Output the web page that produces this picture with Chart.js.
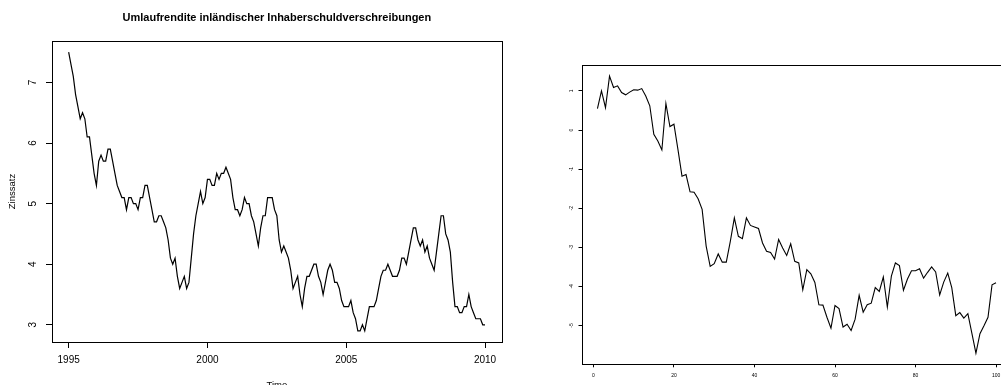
<!DOCTYPE html>
<html>
<head>
<meta charset="utf-8">
<script src="https://cdn.jsdelivr.net/npm/chart.js@4/dist/chart.umd.min.js"></script>
<style>
  html, body { margin: 0; padding: 0; background: #fff; overflow: hidden; }
  #page { position: relative; width: 1001px; height: 385px; overflow: hidden; background: #fff; }
  #ts { position: absolute; left: 0; top: 0; }
  #rw { position: absolute; left: 540px; top: 0; }
</style>
</head>
<body>
<div id="page">
  <canvas id="ts" width="540" height="400"></canvas>
  <canvas id="rw" width="500" height="400"></canvas>
</div>
<script>
// Monthly yield series, January 1995 .. January 2010 (percent)
const startYear = 1995;
const zinssatz = [
  7.5, 7.3, 7.1, 6.8, 6.6, 6.4, 6.5, 6.4, 6.1, 6.1, 5.8, 5.5,   // 1995
  5.3, 5.7, 5.8, 5.7, 5.7, 5.9, 5.9, 5.7, 5.5, 5.3, 5.2, 5.1,   // 1996
  5.1, 4.9, 5.1, 5.1, 5.0, 5.0, 4.9, 5.1, 5.1, 5.3, 5.3, 5.1,   // 1997
  4.9, 4.7, 4.7, 4.8, 4.8, 4.7, 4.6, 4.4, 4.1, 4.0, 4.1, 3.8,   // 1998
  3.6, 3.7, 3.8, 3.6, 3.7, 4.1, 4.5, 4.8, 5.0, 5.2, 5.0, 5.1,   // 1999
  5.4, 5.4, 5.3, 5.3, 5.5, 5.4, 5.5, 5.5, 5.6, 5.5, 5.4, 5.1,   // 2000
  4.9, 4.9, 4.8, 4.9, 5.1, 5.0, 5.0, 4.8, 4.7, 4.5, 4.3, 4.6,   // 2001
  4.8, 4.8, 5.1, 5.1, 5.1, 4.9, 4.8, 4.4, 4.2, 4.3, 4.2, 4.1,   // 2002
  3.9, 3.6, 3.7, 3.8, 3.5, 3.3, 3.6, 3.8, 3.8, 3.9, 4.0, 4.0,   // 2003
  3.8, 3.7, 3.5, 3.7, 3.9, 4.0, 3.9, 3.7, 3.7, 3.6, 3.4, 3.3,   // 2004
  3.3, 3.3, 3.4, 3.2, 3.1, 2.9, 2.9, 3.0, 2.9, 3.1, 3.3, 3.3,   // 2005
  3.3, 3.4, 3.6, 3.8, 3.9, 3.9, 4.0, 3.9, 3.8, 3.8, 3.8, 3.9,   // 2006
  4.1, 4.1, 4.0, 4.2, 4.4, 4.6, 4.6, 4.4, 4.3, 4.4, 4.2, 4.3,   // 2007
  4.1, 4.0, 3.9, 4.2, 4.5, 4.8, 4.8, 4.5, 4.4, 4.2, 3.7, 3.3,   // 2008
  3.3, 3.2, 3.2, 3.3, 3.3, 3.5, 3.3, 3.2, 3.1, 3.1, 3.1, 3.0,   // 2009
  3.0                                                           // 2010
];
const yearTicks = [1995, 2000, 2005, 2010];
const rateTicks = [3, 4, 5, 6, 7];

// Random walk, 100 steps
const walk = [
   0.55,  1.00,  0.57,  1.38,  1.09,  1.13,  0.96,  0.90,  0.97,  1.03,
   1.02,  1.06,  0.87,  0.62, -0.11, -0.28, -0.51,  0.68,  0.09,  0.15,
  -0.50, -1.18, -1.14, -1.58, -1.59, -1.76, -2.03, -2.97, -3.49, -3.42,
  -3.17, -3.38, -3.38, -2.85, -2.25, -2.72, -2.78, -2.25, -2.44, -2.48,
  -2.52, -2.89, -3.10, -3.13, -3.30, -2.80, -3.02, -3.21, -2.91, -3.36,
  -3.40, -4.09, -3.57, -3.68, -3.90, -4.47, -4.48, -4.79, -5.07, -4.49,
  -4.57, -5.04, -4.97, -5.13, -4.84, -4.23, -4.66, -4.47, -4.43, -4.03,
  -4.13, -3.76, -4.53, -3.74, -3.40, -3.47, -4.10, -3.81, -3.60, -3.60,
  -3.55, -3.79, -3.64, -3.50, -3.63, -4.22, -3.89, -3.66, -4.03, -4.75,
  -4.67, -4.81, -4.70, -5.20, -5.71, -5.21, -5.01, -4.79, -3.96, -3.91
];
const stepTicks = [0, 20, 40, 60, 80, 100];
const walkTicks = [-5, -4, -3, -2, -1, 0, 1];

const FONT = "'Liberation Sans', Arial, Helvetica, sans-serif";

// axis range padded by 4% on each side, like R's default
function padRange(lo, hi) {
  const d = (hi - lo) * 0.04;
  return [lo - d, hi + d];
}

// draws the full frame around the plotting region
const framePlugin = {
  id: 'frame',
  afterDraw(chart) {
    const { ctx, chartArea: a } = chart;
    ctx.save();
    ctx.strokeStyle = '#000';
    ctx.lineWidth = 1;
    ctx.strokeRect(Math.round(a.left) + 0.5, Math.round(a.top) + 0.5,
                   Math.round(a.right - a.left), Math.round(a.bottom - a.top));
    ctx.restore();
  }
};

function fixedTicks(list) {
  return (scale) => { scale.ticks = list.map(v => ({ value: v })); };
}

// ---- left: time series ----
const tsPoints = zinssatz.map((v, i) => ({ x: startYear + i / 12, y: v }));
const tsX = padRange(startYear, startYear + (zinssatz.length - 1) / 12);
const tsY = padRange(Math.min(...zinssatz), Math.max(...zinssatz));

new Chart(document.getElementById('ts'), {
  type: 'line',
  data: {
    datasets: [{
      data: tsPoints,
      borderColor: '#000',
      borderWidth: 1.2,
      pointRadius: 0,
      tension: 0,
      fill: false
    }]
  },
  options: {
    responsive: false,
    animation: false,
    devicePixelRatio: 1,
    events: [],
    layout: { padding: { top: 0, right: 38.3, left: 0, bottom: 0 } },
    plugins: {
      legend: { display: false },
      tooltip: { enabled: false },
      title: {
        display: true,
        text: 'Umlaufrendite inländischer Inhaberschuldverschreibungen',
        color: '#000',
        fullSize: false,
        font: { family: FONT, size: 11, weight: 'bold', lineHeight: 1.2 },
        padding: { top: 11.4, bottom: 16.4 }
      }
    },
    scales: {
      x: {
        type: 'linear',
        min: tsX[0], max: tsX[1],
        afterBuildTicks: fixedTicks(yearTicks),
        afterFit: (s) => { s.height = 58; },
        border: { display: false },
        grid: { drawOnChartArea: false, drawTicks: true, tickLength: 6, color: '#000', lineWidth: 1 },
        ticks: { color: '#000', padding: 6.5, maxRotation: 0, autoSkip: false,
                 font: { family: FONT, size: 10 }, callback: (v) => String(v) },
        title: { display: true, text: 'Time', color: '#000',
                 font: { family: FONT, size: 9.5 }, padding: { top: 0, bottom: 8.8 } }
      },
      y: {
        type: 'linear',
        min: tsY[0], max: tsY[1],
        afterBuildTicks: fixedTicks(rateTicks),
        afterFit: (s) => { s.width = 52; },
        border: { display: false },
        grid: { drawOnChartArea: false, drawTicks: true, tickLength: 6, color: '#000', lineWidth: 1 },
        ticks: { color: '#000', padding: 10, minRotation: 90, maxRotation: 90,
                 crossAlign: 'center', autoSkip: false,
                 font: { family: FONT, size: 10 }, callback: (v) => String(v) },
        title: { display: true, text: 'Zinssatz', color: '#000',
                 font: { family: FONT, size: 9.5 }, padding: { top: 6.8, bottom: 0 } }
      }
    }
  },
  plugins: [framePlugin]
});

// ---- right: random walk ----
const steps = walk.map((_, i) => i + 1);
const rwPoints = walk.map((v, i) => ({ x: steps[i], y: v }));
const rwX = padRange(steps[0], steps[steps.length - 1]);
const rwY = padRange(Math.min(...walk), Math.max(...walk));

new Chart(document.getElementById('rw'), {
  type: 'line',
  data: {
    datasets: [{
      data: rwPoints,
      borderColor: '#000',
      borderWidth: 1.1,
      pointRadius: 0,
      tension: 0,
      fill: false
    }]
  },
  options: {
    responsive: false,
    animation: false,
    devicePixelRatio: 1,
    events: [],
    layout: { padding: { top: 65, right: 28, left: 0, bottom: 0 } },
    plugins: { legend: { display: false }, tooltip: { enabled: false } },
    scales: {
      x: {
        type: 'linear',
        min: rwX[0], max: rwX[1],
        afterBuildTicks: fixedTicks(stepTicks),
        afterFit: (s) => { s.height = 35.7; },
        border: { display: false },
        grid: { drawOnChartArea: false, drawTicks: true, tickLength: 3, color: '#000', lineWidth: 1 },
        ticks: { color: '#000', padding: 5.5, maxRotation: 0, autoSkip: false,
                 font: { family: FONT, size: 5 }, callback: (v) => String(v) }
      },
      y: {
        type: 'linear',
        min: rwY[0], max: rwY[1],
        afterBuildTicks: fixedTicks(walkTicks),
        afterFit: (s) => { s.width = 41.5; },
        border: { display: false },
        grid: { drawOnChartArea: false, drawTicks: true, tickLength: 3, color: '#000', lineWidth: 1 },
        ticks: { color: '#000', padding: 5, minRotation: 90, maxRotation: 90,
                 crossAlign: 'center', autoSkip: false,
                 font: { family: FONT, size: 5 }, callback: (v) => String(v) }
      }
    }
  },
  plugins: [framePlugin]
});
</script>
</body>
</html>
